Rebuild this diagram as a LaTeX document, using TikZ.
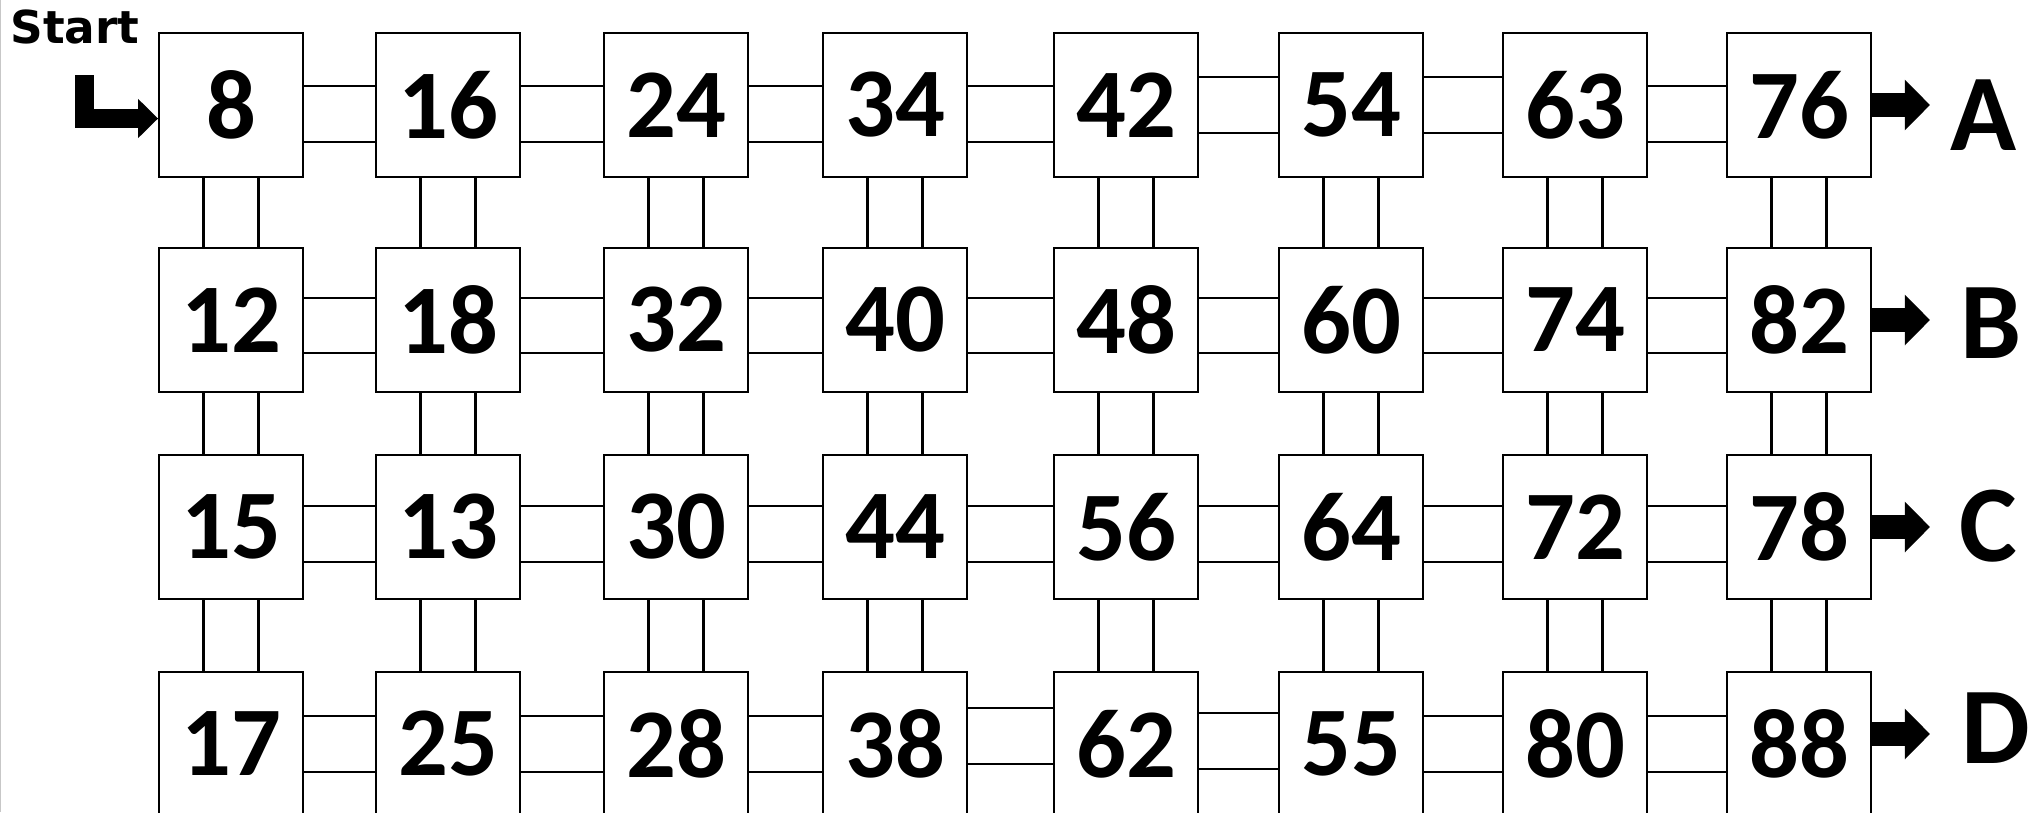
\documentclass[tikz,border=0pt]{standalone}
\usepackage{fontspec}
\setmainfont{Carlito}
\newfontfamily\startfont{DejaVu Sans}
\usetikzlibrary{arrows.meta}

\begin{document}
\begin{tikzpicture}[x=0.01cm,y=-0.01cm,
  box/.style={draw,line width=0.5pt,minimum size=1.44cm,inner sep=0pt,font=\bfseries\fontsize{28}{30}\selectfont},
  link/.style={line width=0.6pt},
  outarrow/.style={line width=0.24cm,-{Triangle[length=0.25cm,width=0.49cm]}},
  letter/.style={anchor=base,font=\bfseries\fontsize{31}{32}\selectfont}]
\useasboundingbox (0,0) rectangle (2040,812);
\draw[black!22,line width=0.01cm] (0.5,0) -- (0.5,812);
\foreach \v/\x [count=\i] in {8/231,16/448,24/676,34/895,42/1126,54/1351,63/1575,76/1799} \node[box] (a\i) at (\x,105) {\v};
\foreach \v/\x [count=\i] in {12/231,18/448,32/676,40/895,48/1126,60/1351,74/1575,82/1799} \node[box] (b\i) at (\x,320) {\v};
\foreach \v/\x [count=\i] in {15/231,13/448,30/676,44/895,56/1126,64/1351,72/1575,78/1799} \node[box] (c\i) at (\x,527) {\v};
\foreach \v/\x [count=\i] in {17/231,25/448,28/676,38/895,62/1126,55/1351,80/1575,88/1799} \node[box] (d\i) at (\x,744) {\v};
\foreach \p/\q/\u/\d in {a1/a2/19/37,a2/a3/19/37,a3/a4/19/37,a4/a5/19/37,a5/a6/28/28,a6/a7/28/28,a7/a8/19/37,
  b1/b2/22/33,b2/b3/22/33,b3/b4/22/33,b4/b5/22/33,b5/b6/22/33,b6/b7/22/33,b7/b8/22/33,
  c1/c2/21/35,c2/c3/21/35,c3/c4/21/35,c4/c5/21/35,c5/c6/21/35,c6/c7/21/35,c7/c8/21/35,
  d1/d2/28/28,d2/d3/28/28,d3/d4/28/28,d4/d5/36/20,d5/d6/31/25,d6/d7/28/28,d7/d8/28/28}
  \draw[link] ([yshift=\u*0.01cm]\p.east) -- ([yshift=\u*0.01cm]\q.west) ([yshift=-\d*0.01cm]\p.east) -- ([yshift=-\d*0.01cm]\q.west);
\foreach \r/\s in {a/b,b/c,c/d} \foreach \i in {1,...,8}
  \draw[link] ([xshift=-0.275cm]\r\i.south) -- ([xshift=-0.275cm]\s\i.north) ([xshift=0.275cm]\r\i.south) -- ([xshift=0.275cm]\s\i.north);
\node[anchor=base,font=\startfont\bfseries\fontsize{12.9}{14}\selectfont] (start) at (75,43) {Start};
\coordinate (s0) at (84.5,75);
\draw[line width=0.19cm,-{Triangle[length=0.2cm,width=0.38cm]}] (s0) |- ([yshift=-0.135cm]a1.west);
\coordinate (ea) at ([xshift=0.58cm]a8.east);
\coordinate (eb) at ([xshift=0.58cm]b8.east);
\coordinate (ec) at ([xshift=0.58cm]c8.east);
\coordinate (ed) at ([xshift=0.58cm,yshift=0.1cm]d8.east);
\draw[outarrow] (a8.east) -- (ea);
\draw[outarrow] (b8.east) -- (eb);
\draw[outarrow] (c8.east) -- (ec);
\draw[outarrow] ([yshift=0.1cm]d8.east) -- (ed);
\node[letter] (la) at (1983,150) {A};
\node[letter] (lb) at (1991,358) {B};
\node[letter] (lc) at (1988,561) {C};
\node[letter] (ld) at (1996,763) {D};
\end{tikzpicture}
\end{document}
